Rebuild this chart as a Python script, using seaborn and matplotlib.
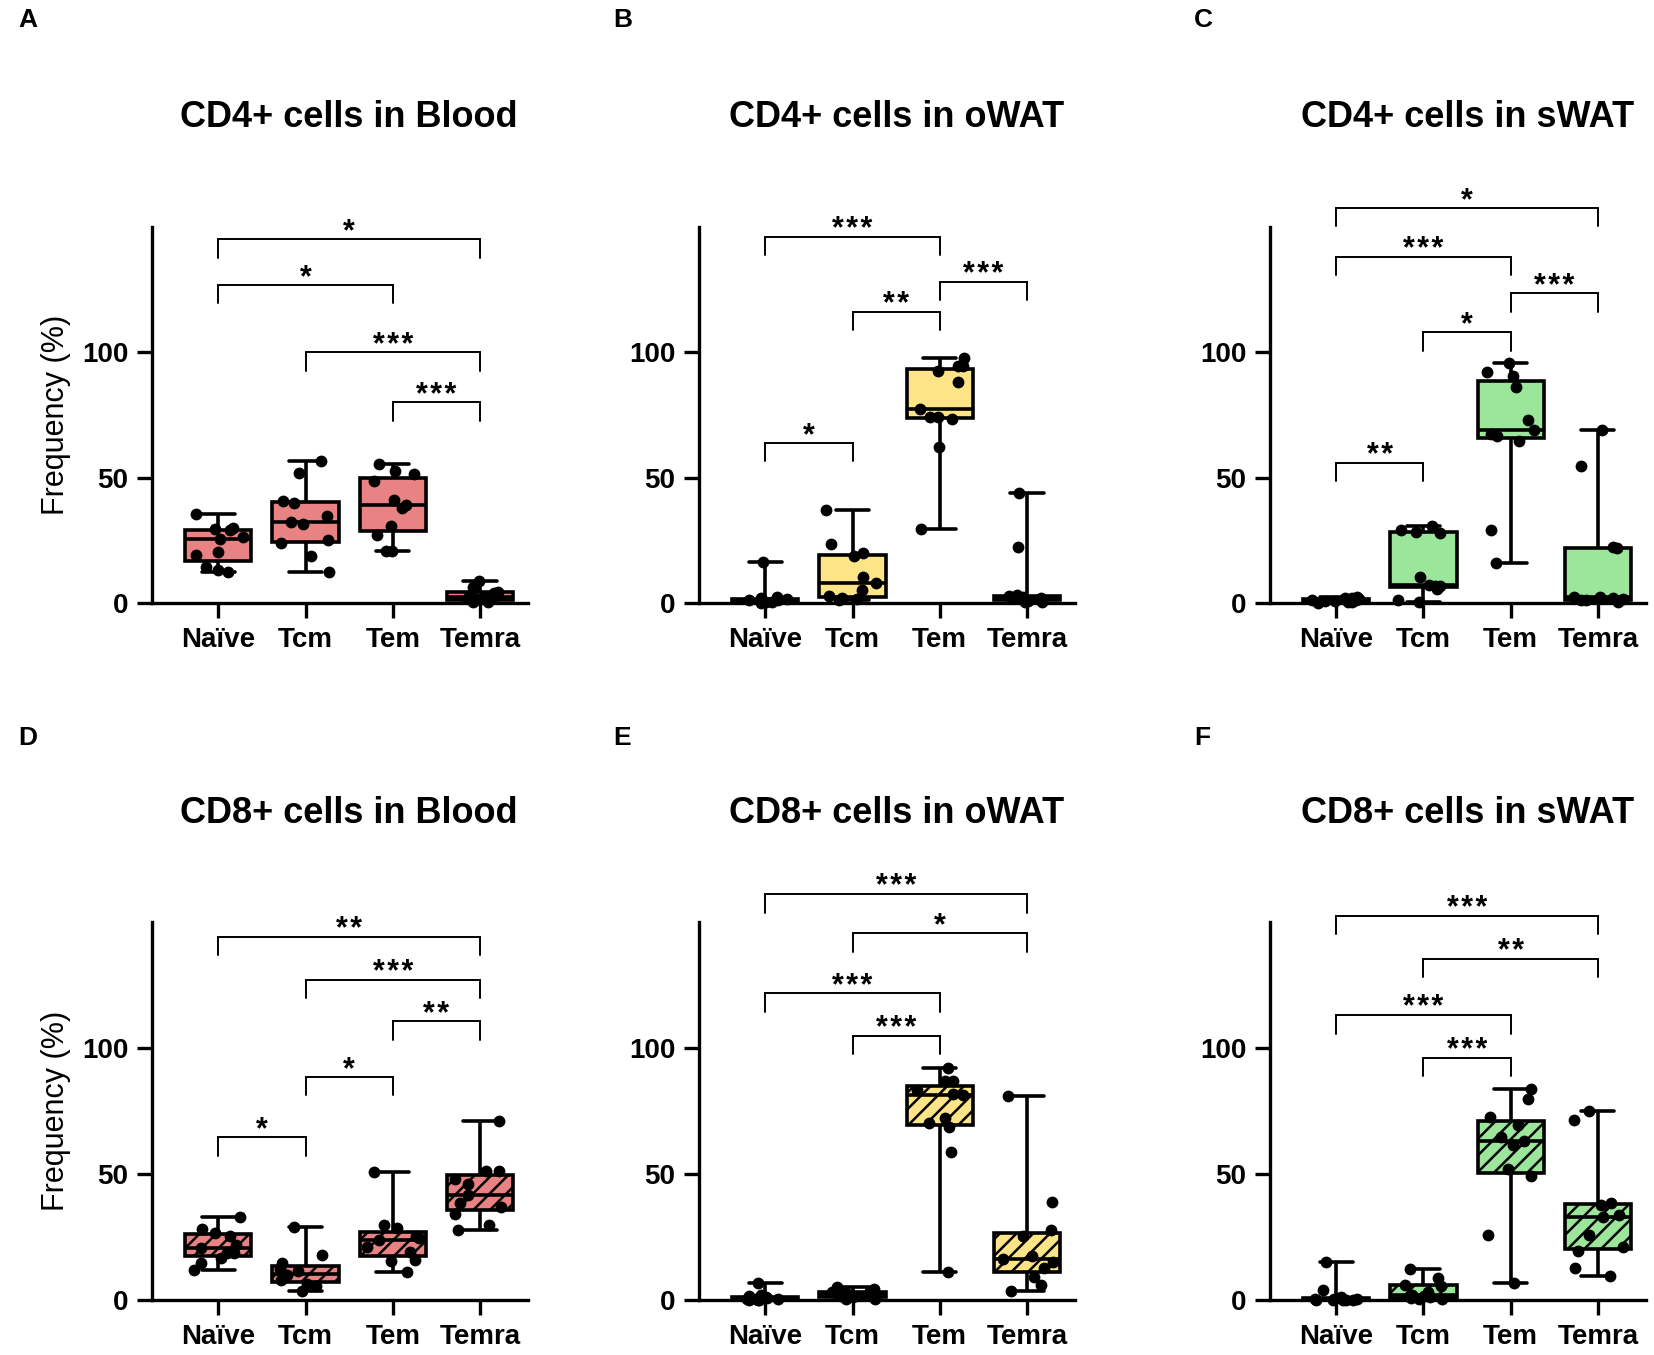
import numpy as np
import pandas as pd
import matplotlib
matplotlib.use("Agg")
import matplotlib.pyplot as plt
import matplotlib.transforms as mtransforms
import seaborn as sns

categories = ["Naïve", "Tcm", "Tem", "Temra"]

# frequency (%) per donor, one list per subset: Naive, Tcm, Tem, Temra
cd4_blood = [
    [35.5, 30, 29.5, 29, 26.5, 25.5, 20.5, 19, 14.5, 13, 12.3],
    [56.7, 52, 40.7, 40, 34.8, 32.4, 31.6, 25, 24, 18.7, 12.4],
    [55.3, 52.7, 51.3, 48.5, 41, 39, 38, 30.7, 27, 20.7, 20.7],
    [8.8, 6.5, 4.5, 4, 3, 2.5, 2, 1.5, 1, 0.5, 0.2],
]
cd4_owat = [
    [16.4, 2.5, 2, 1.5, 1.2, 1, 1, 0.8, 0.5, 0.3, 0],
    [37.1, 23.5, 19.8, 18.8, 10.2, 8, 5.3, 2.9, 1.9, 1.6, 1.3],
    [97.7, 94.4, 94.4, 92.4, 88.3, 77.2, 74.3, 74.3, 73.2, 62.2, 29.7],
    [43.8, 22.4, 3, 2.8, 2.5, 2, 1.8, 1.2, 0.8, 0.5, 0.2],
]
cd4_swat = [
    [2.2, 2, 1.8, 1.5, 1.2, 1, 0.8, 0.6, 0.4, 0.2, 0],
    [30.6, 29.3, 28.5, 27.8, 10.2, 7.2, 6.9, 6.9, 5.5, 1.0, 0.5],
    [95.8, 92, 90.7, 86.1, 72.9, 69, 67.6, 66.6, 64.7, 29.3, 15.9],
    [69, 54.7, 22.4, 21.8, 2.5, 2.2, 2, 1.5, 1.2, 1, 0.5],
]
cd8_blood = [
    [33, 28.1, 26.5, 25.5, 21.8, 20.5, 18.5, 18.5, 16.8, 14.5, 11.9],
    [29, 17.8, 14.5, 12.3, 11.5, 10.5, 9.9, 7.9, 6.2, 5.7, 3.6],
    [50.6, 29.7, 28.4, 25.5, 24.5, 23.8, 21.1, 19.2, 15.9, 15.5, 11],
    [70.9, 51.1, 51.1, 48.2, 46.2, 41.6, 38.3, 37, 34.3, 29.7, 27.7],
]
cd8_owat = [
    [6.6, 2, 1.5, 1, 0.8, 0.5, 0.3, 0.2, 0.1, 0, 0],
    [5.3, 4.5, 3.5, 3, 2.8, 2.5, 2, 1.5, 1, 0.5, 0.2],
    [92.1, 86.8, 86.8, 83.4, 81.8, 81.2, 72.2, 70.2, 68.5, 58.7, 11],
    [80.8, 38.8, 27.8, 25.2, 17.6, 16.3, 15.2, 12.6, 9.3, 6, 3.6],
]
cd8_swat = [
    [15.2, 4, 1, 0.5, 0.3, 0.2, 0.1, 0, 0, 0, 0],
    [12.3, 8.9, 6, 5.5, 3, 2, 1.5, 1, 0.8, 0.5, 0.3],
    [83.7, 79.9, 72.5, 69.3, 64.5, 63.2, 61.6, 52, 49, 25.8, 6.6],
    [74.8, 71.5, 38.4, 37.5, 33.8, 33.1, 25.6, 21, 19.5, 12.8, 9.7],
]

# significance brackets: (group i, group j, height, label)
sig_cd4_blood = [(0, 3, 145, "*"), (0, 2, 127, "*"), (1, 3, 100, "***"), (2, 3, 80, "***")]
sig_cd4_owat = [(0, 2, 146, "***"), (2, 3, 128, "***"), (1, 2, 116, "**"), (0, 1, 64, "*")]
sig_cd4_swat = [(0, 3, 157.5, "*"), (0, 2, 138, "***"), (2, 3, 123.5, "***"), (1, 2, 108, "*"), (0, 1, 56, "**")]
sig_cd8_blood = [(0, 3, 144, "**"), (1, 3, 127, "***"), (2, 3, 110.5, "**"), (1, 2, 88.5, "*"), (0, 1, 64.5, "*")]
sig_cd8_owat = [(0, 3, 161, "***"), (1, 3, 145.5, "*"), (0, 2, 121.7, "***"), (1, 2, 104.8, "***")]
sig_cd8_swat = [(0, 3, 152.5, "***"), (1, 3, 135.3, "**"), (0, 2, 113, "***"), (1, 2, 96, "***")]

red = "#E98383"
yellow = "#FDE587"
green = "#9BE69B"

panels = [
    ("A", "CD4+ cells in Blood", cd4_blood, sig_cd4_blood, red, 0, 0),
    ("B", "CD4+ cells in oWAT", cd4_owat, sig_cd4_owat, yellow, 0, 1),
    ("C", "CD4+ cells in sWAT", cd4_swat, sig_cd4_swat, green, 0, 2),
    ("D", "CD8+ cells in Blood", cd8_blood, sig_cd8_blood, red, 1, 0),
    ("E", "CD8+ cells in oWAT", cd8_owat, sig_cd8_owat, yellow, 1, 1),
    ("F", "CD8+ cells in sWAT", cd8_swat, sig_cd8_swat, green, 1, 2),
]

sns.set_style("ticks")
plt.rcParams["font.family"] = ["Liberation Sans", "DejaVu Sans"]
plt.rcParams["hatch.linewidth"] = 1.8
for k in ["text.color", "axes.labelcolor", "xtick.color", "ytick.color", "axes.edgecolor"]:
    plt.rcParams[k] = "black"
np.random.seed(7)

fig = plt.figure(figsize=(16.54, 13.55), dpi=100)

lefts = [0.0919, 0.4226, 0.7678]
bottoms = [0.5550, 0.0406]
heights = [0.2775, 0.279]
title_y = [0.913, 0.3995]
letter_y = [0.985, 0.455]
letter_x = [0.011, 0.371, 0.722]

for letter, title, values, sigs, fill, row, col in panels:
    df = pd.DataFrame({
        "subset": np.repeat(categories, [len(v) for v in values]),
        "freq": np.concatenate(values),
    })
    ax = fig.add_axes([lefts[col], bottoms[row], 0.2273, heights[row]])
    sns.boxplot(data=df, x="subset", y="freq", order=categories, whis=(0, 100),
                width=0.76, color=fill, saturation=1, linecolor="black",
                linewidth=2.6, showfliers=False, ax=ax)
    if row == 1:
        for p in ax.patches:
            p.set_hatch("//")
    sns.stripplot(data=df, x="subset", y="freq", order=categories, color="black",
                  size=8.5, jitter=0.3, ax=ax, zorder=4, clip_on=False)

    ax.set_xlim(-0.76, 3.55)
    ax.set_ylim(0, 150)
    ax.set_yticks([0, 50, 100])
    ax.set_xlabel("")
    if col == 0:
        ax.set_ylabel("Frequency (%)", fontsize=22)
        ax.yaxis.set_label_coords(-0.215, 0.5)
    else:
        ax.set_ylabel("")
    sns.despine(ax=ax)
    for s in ["left", "bottom"]:
        ax.spines[s].set_linewidth(2.4)
    ax.tick_params(width=2.4, length=11, labelsize=20, pad=6)
    for lab in ax.get_xticklabels() + ax.get_yticklabels():
        lab.set_fontweight("bold")

    # brackets with stars
    drop = 7.3
    for i, j, h, lab in sigs:
        ax.plot([i, i, j, j], [h - drop, h, h, h - drop], color="black", lw=1.4,
                clip_on=False, solid_joinstyle="miter")
        ax.text((i + j) / 2, h - 0.5, "\u200a".join(lab), ha="center", va="baseline",
                fontsize=22, fontweight="bold", clip_on=False)

    trans = mtransforms.blended_transform_factory(ax.transData, fig.transFigure)
    ax.text(1.5, title_y[row], title, transform=trans, ha="center", va="center",
            fontsize=26, fontweight="bold")
    fig.text(letter_x[col], letter_y[row], letter, fontsize=19, fontweight="bold",
             ha="left", va="center")

fig.savefig("out.png", dpi=100)
